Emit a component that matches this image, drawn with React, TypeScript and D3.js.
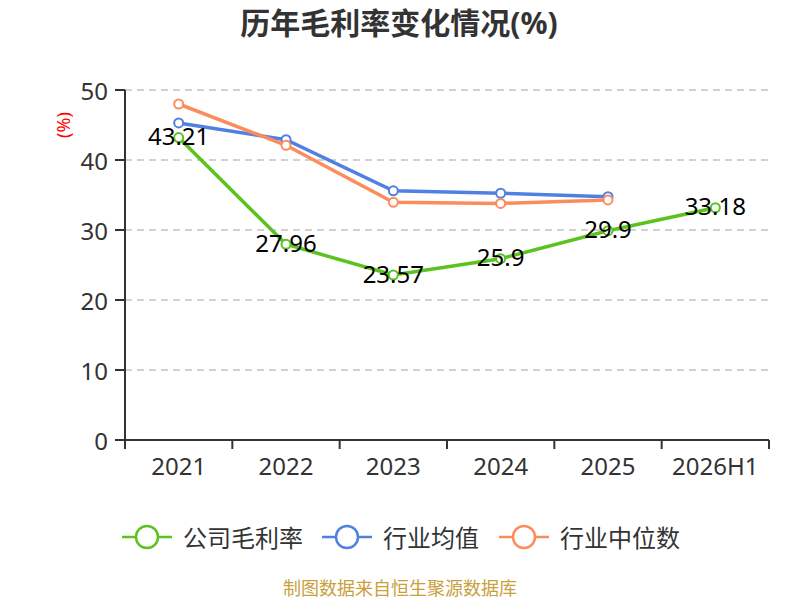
import * as d3 from "d3";

const categories = ["2021", "2022", "2023", "2024", "2025", "2026H1"];
const companyMargin = [43.21, 27.96, 23.57, 25.9, 29.9, 33.18];
const industryMean = [45.3, 42.9, 35.6, 35.25, 34.75, null];
const industryMedian = [48.0, 42.1, 33.95, 33.8, 34.3, null];
const yTicks = [0, 10, 20, 30, 40, 50];

const series = [
  { name: "公司毛利率", values: companyMargin, color: "#5cc21f", labels: true },
  { name: "行业均值", values: industryMean, color: "#4f80e2", labels: false },
  { name: "行业中位数", values: industryMedian, color: "#fd8c5c", labels: false },
];

const WIDTH = 800;
const HEIGHT = 600;
const MARGIN = { top: 90, right: 31, bottom: 160, left: 125 };
const FONT = '"Noto Sans", "Noto Sans CJK SC", sans-serif';

export default function App() {
  const plotW = WIDTH - MARGIN.left - MARGIN.right;
  const plotH = HEIGHT - MARGIN.top - MARGIN.bottom;

  const x = d3.scaleBand<string>().domain(categories).range([0, plotW]);
  const y = d3.scaleLinear().domain([0, 50]).range([plotH, 0]);
  const cx = (c: string) => (x(c) ?? 0) + x.bandwidth() / 2;

  const line = d3
    .line<number | null>()
    .defined((d) => d != null)
    .x((_, i) => cx(categories[i]))
    .y((d) => y(d as number));

  const legendX = [122, 322, 499];

  return (
    <svg
      width={WIDTH}
      height={HEIGHT}
      style={{ position: "absolute", left: 0, top: 0, background: "#fff" }}
      fontFamily={FONT}
    >
      <text x={399} y={22} textAnchor="middle" dominantBaseline="central" fontSize={30} fontWeight="bold" fill="#333">
        历年毛利率变化情况(%)
      </text>

      <g transform={`translate(${MARGIN.left},${MARGIN.top})`}>
        {/* gridlines */}
        {yTicks.filter((t) => t > 0).map((t) => (
          <line key={t} x1={0} x2={plotW} y1={y(t)} y2={y(t)} stroke="#c4c4c4" strokeDasharray="7,5" strokeWidth={1.3} />
        ))}

        {/* y axis */}
        <line x1={0} x2={0} y1={0} y2={plotH} stroke="#333" strokeWidth={2} />
        {yTicks.map((t) => (
          <g key={t}>
            <line x1={-10} x2={0} y1={y(t)} y2={y(t)} stroke="#333" strokeWidth={2} />
            <text x={-17} y={y(t)} textAnchor="end" dominantBaseline="central" fontSize={24} fill="#333">
              {t}
            </text>
          </g>
        ))}
        <text
          transform={`translate(${63 - MARGIN.left},${125 - MARGIN.top}) rotate(-90)`}
          textAnchor="middle"
          dominantBaseline="central"
          fontSize={18}
          fill="#f00"
        >
          (%)
        </text>

        {/* x axis */}
        <line x1={0} x2={plotW} y1={plotH} y2={plotH} stroke="#333" strokeWidth={2} />
        {[...categories.map((c) => x(c) ?? 0), plotW].map((px, i) => (
          <line key={i} x1={px} x2={px} y1={plotH} y2={plotH + 9} stroke="#333" strokeWidth={2} />
        ))}
        {categories.map((c) => (
          <text key={c} x={cx(c)} y={plotH + 25} textAnchor="middle" dominantBaseline="central" fontSize={24} fill="#333">
            {c}
          </text>
        ))}

        {/* series */}
        {series.map((s) => (
          <g key={s.name}>
            <path d={line(s.values) ?? ""} fill="none" stroke={s.color} strokeWidth={3.5} />
            {s.values.map((v, i) =>
              v == null ? null : (
                <circle key={i} cx={cx(categories[i])} cy={y(v)} r={4.5} fill="#fff" stroke={s.color} strokeWidth={2} />
              )
            )}
          </g>
        ))}
        {series
          .filter((s) => s.labels)
          .map((s) =>
            s.values.map((v, i) =>
              v == null ? null : (
                <text
                  key={`${s.name}-${i}`}
                  x={cx(categories[i])}
                  y={y(v) - 2}
                  textAnchor="middle"
                  dominantBaseline="central"
                  fontSize={24}
                  fill="#000"
                >
                  {v}
                </text>
              )
            )
          )}
      </g>

      {/* legend */}
      {series.map((s, i) => (
        <g key={s.name} transform={`translate(${legendX[i]},537)`}>
          <line x1={0} x2={50} y1={0} y2={0} stroke={s.color} strokeWidth={2.5} />
          <circle cx={25} cy={0} r={11} fill="#fff" stroke={s.color} strokeWidth={2.5} />
          <text x={61} y={0} dominantBaseline="central" fontSize={24} fill="#333">
            {s.name}
          </text>
        </g>
      ))}

      <text x={400} y={588} textAnchor="middle" dominantBaseline="central" fontSize={18} fill="#c9a03c">
        制图数据来自恒生聚源数据库
      </text>
    </svg>
  );
}
